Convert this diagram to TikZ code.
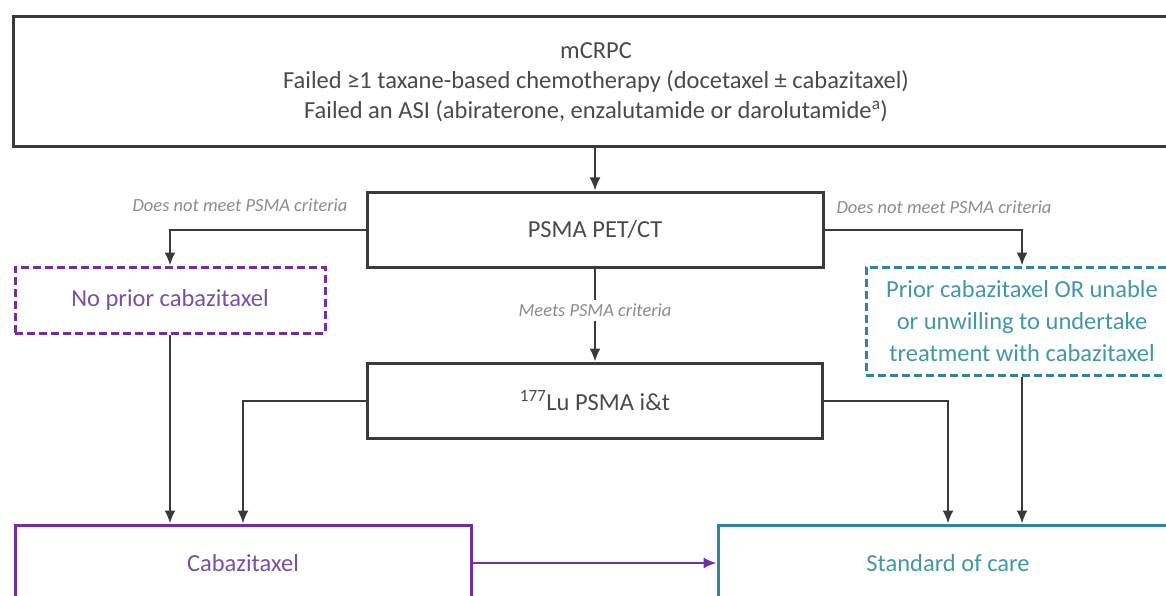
\documentclass[tikz,border=0pt]{standalone}
\usepackage{fontspec}
\setmainfont{Carlito}
\usetikzlibrary{positioning,arrows.meta}
\definecolor{boxgray}{HTML}{3A3A3A}
\definecolor{txtgray}{HTML}{4A4A4A}
\definecolor{critgray}{HTML}{8C8C8C}
\definecolor{cabpurple}{HTML}{7030A0}
\definecolor{cabtext}{HTML}{7650A6}
\definecolor{socteal}{HTML}{31849B}
\definecolor{soctext}{HTML}{4297A6}
\tikzstyle{every node}=[font=\fontsize{24.5}{30}\selectfont,text=txtgray,inner sep=0pt,align=center]
\tikzstyle{box}=[draw=boxgray,line width=3pt]
\tikzstyle{dashbox}=[line width=3pt,dash pattern=on 8pt off 4pt]
\tikzstyle{arrow}=[line width=2pt,draw=boxgray,->,>={Latex[length=13pt,width=11pt]}]
\tikzstyle{crit}=[font=\fontsize{18.5}{20}\selectfont\itshape,text=critgray]
\begin{document}
\begin{tikzpicture}[x=1pt,y=-1pt]
\path[use as bounding box,clip] (0,0) rectangle (1166,596);

% boxes
\node[box,minimum width=1166pt,minimum height=130pt] (mcrpc) at (596,82) {mCRPC\\Failed ≥1 taxane-based chemotherapy (docetaxel ± cabazitaxel)\\Failed an ASI (abiraterone, enzalutamide or darolutamide\textsuperscript{a})};
\node[box,minimum width=456pt,minimum height=75pt] (pet) at (595,229.5) {PSMA PET/CT};
\node[dashbox,draw=cabpurple,text=cabtext,minimum width=310pt,minimum height=66pt] (noprior) at (170,300) {No prior cabazitaxel};
\node[dashbox,draw=socteal,text=soctext,minimum width=312pt,minimum height=108pt,font=\fontsize{24.5}{32}\selectfont] (prior) at (1022,321) {Prior cabazitaxel OR unable\\or unwilling to undertake\\treatment with cabazitaxel};
\node[box,minimum width=455pt,minimum height=75pt] (lu) at (595,400.5) {\textsuperscript{177}Lu PSMA i\&t};
\node[box,draw=cabpurple,text=cabtext,minimum width=456pt,minimum height=76pt] (cab) at (243,563) {Cabazitaxel};
\node[box,draw=socteal,text=soctext,minimum width=460pt,minimum height=76pt] (soc) at (948,563) {Standard of care};

% criteria labels
\node[crit] (critl) at (240,205) {Does not meet PSMA criteria};
\node[crit] (critr) at (944,207) {Does not meet PSMA criteria};

% connectors
\draw[arrow] (pet.north |- mcrpc.south) -- (pet.north);
\draw[arrow] (pet.west) -| (noprior.north);
\draw[arrow] (pet.east) -| (prior.north);
\draw[arrow] (pet.south) -- node[crit,fill=white,inner sep=4pt,pos=0.45] (critm) {Meets PSMA criteria} (lu.north);
\draw[arrow] (lu.west) -| (cab.north);
\draw[arrow] (noprior.south) -- (noprior.south |- cab.north);
\draw[arrow] (lu.east) -| (soc.north);
\draw[arrow] (prior.south) -- (prior.south |- soc.north);
\draw[arrow,draw=cabpurple] (cab.east) -- (soc.west);

\end{tikzpicture}
\end{document}
